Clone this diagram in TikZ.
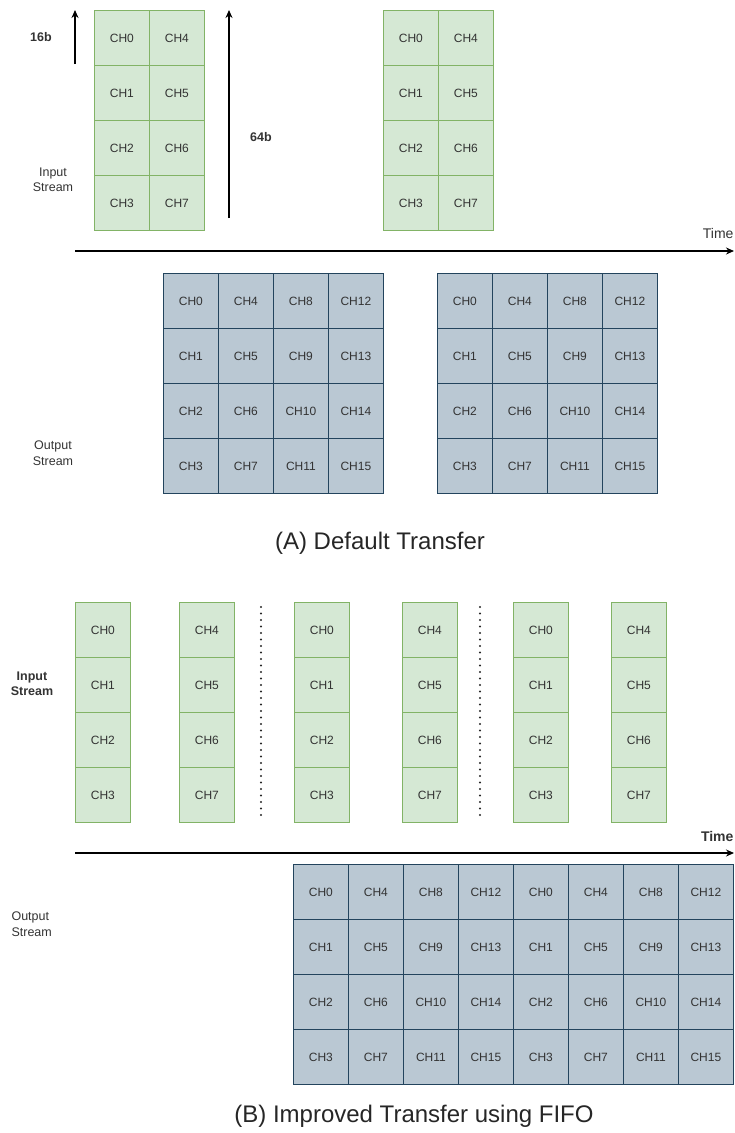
\documentclass[tikz,border=0pt]{standalone}
\usepackage{fontspec}
\setmainfont{Liberation Sans}
\usepackage{tikz}
\usetikzlibrary{arrows.meta}

\definecolor{greenfill}{HTML}{D5E8D4}
\definecolor{greenline}{HTML}{82B366}
\definecolor{bluefill}{HTML}{BAC8D3}
\definecolor{blueline}{HTML}{23445D}
\definecolor{txtgray}{HTML}{333333}

\tikzset{
	incell/.style={draw=greenline, fill=greenfill, line width=0.8pt, minimum width=55pt, minimum height=55pt,
		inner sep=0pt, anchor=north west, text=txtgray, font=\fontsize{12}{14}\selectfont},
	outcell/.style={incell, draw=blueline, fill=bluefill},
	tarrow/.style={line width=1.2pt, -{Stealth[length=8pt,width=7pt]}},
	lbl/.style={align=center, text=txtgray, font=\fontsize{12.5}{15.5}\selectfont},
	boldlbl/.style={lbl, font=\fontsize{12.5}{15.5}\selectfont\bfseries},
	figcap/.style={text=black!85, font=\fontsize{24}{28}\selectfont},
	dots/.style={line width=2.2pt, line cap=round, dash pattern=on 0pt off 6.5pt, black!85},
}

\begin{document}
\begin{tikzpicture}[x=1pt, y=-1pt]
	\useasboundingbox (0,0) rectangle (735,1133);

	% (A) input stream, two words of 64b
	\node[incell] (ia0) at (94,10) {CH0};  \node[incell] (ia4) at (149,10) {CH4};
	\node[incell] (ia1) at (94,65) {CH1};  \node[incell] (ia5) at (149,65) {CH5};
	\node[incell] (ia2) at (94,120) {CH2}; \node[incell] (ia6) at (149,120) {CH6};
	\node[incell] (ia3) at (94,175) {CH3}; \node[incell] (ia7) at (149,175) {CH7};

	\node[incell] (ib0) at (383,10) {CH0};  \node[incell] (ib4) at (438,10) {CH4};
	\node[incell] (ib1) at (383,65) {CH1};  \node[incell] (ib5) at (438,65) {CH5};
	\node[incell] (ib2) at (383,120) {CH2}; \node[incell] (ib6) at (438,120) {CH6};
	\node[incell] (ib3) at (383,175) {CH3}; \node[incell] (ib7) at (438,175) {CH7};

	% word widths
	\coordinate (w16a) at (75,64);  \coordinate (w16b) at (75,10);
	\coordinate (w64a) at (229,218); \coordinate (w64b) at (229,10);
	\draw[tarrow] (w16a) -- (w16b);
	\draw[tarrow] (w64a) -- (w64b);
	\node[boldlbl] (b16) at (41,37) {16b};
	\node[boldlbl] (b64) at (261,137) {64b};
	\node[lbl] (inA) at (53,180) {Input\\Stream};

	% time axis (A)
	\coordinate (tA0) at (75,251); \coordinate (tA1) at (734,251);
	\draw[tarrow] (tA0) -- (tA1);
	\node[lbl, font=\fontsize{14}{16}\selectfont, anchor=east] (timeA) at (737,233) {Time};

	% (A) output stream, 256b blocks
	\node[outcell] (oa0) at (163,273) {CH0}; \node[outcell] (oa4) at (218,273) {CH4};
	\node[outcell] (oa8) at (273,273) {CH8}; \node[outcell] (oa12) at (328,273) {CH12};
	\node[outcell] (oa1) at (163,328) {CH1}; \node[outcell] (oa5) at (218,328) {CH5};
	\node[outcell] (oa9) at (273,328) {CH9}; \node[outcell] (oa13) at (328,328) {CH13};
	\node[outcell] (oa2) at (163,383) {CH2}; \node[outcell] (oa6) at (218,383) {CH6};
	\node[outcell] (oa10) at (273,383) {CH10}; \node[outcell] (oa14) at (328,383) {CH14};
	\node[outcell] (oa3) at (163,438) {CH3}; \node[outcell] (oa7) at (218,438) {CH7};
	\node[outcell] (oa11) at (273,438) {CH11}; \node[outcell] (oa15) at (328,438) {CH15};

	\node[outcell] (ob0) at (437,273) {CH0}; \node[outcell] (ob4) at (492,273) {CH4};
	\node[outcell] (ob8) at (547,273) {CH8}; \node[outcell] (ob12) at (602,273) {CH12};
	\node[outcell] (ob1) at (437,328) {CH1}; \node[outcell] (ob5) at (492,328) {CH5};
	\node[outcell] (ob9) at (547,328) {CH9}; \node[outcell] (ob13) at (602,328) {CH13};
	\node[outcell] (ob2) at (437,383) {CH2}; \node[outcell] (ob6) at (492,383) {CH6};
	\node[outcell] (ob10) at (547,383) {CH10}; \node[outcell] (ob14) at (602,383) {CH14};
	\node[outcell] (ob3) at (437,438) {CH3}; \node[outcell] (ob7) at (492,438) {CH7};
	\node[outcell] (ob11) at (547,438) {CH11}; \node[outcell] (ob15) at (602,438) {CH15};

	\node[lbl] (outA) at (53,453) {Output\\Stream};
	\node[figcap] (capA) at (380,543) {(A) Default Transfer};

	% (B) input stream, one 16b column at a time
	\node[incell] (p0) at (75,602) {CH0};  \node[incell] (q4) at (179,602) {CH4};
	\node[incell] (p1) at (75,657) {CH1};  \node[incell] (q5) at (179,657) {CH5};
	\node[incell] (p2) at (75,712) {CH2};  \node[incell] (q6) at (179,712) {CH6};
	\node[incell] (p3) at (75,767) {CH3};  \node[incell] (q7) at (179,767) {CH7};

	\node[incell] (r0) at (294,602) {CH0}; \node[incell] (s4) at (402,602) {CH4};
	\node[incell] (r1) at (294,657) {CH1}; \node[incell] (s5) at (402,657) {CH5};
	\node[incell] (r2) at (294,712) {CH2}; \node[incell] (s6) at (402,712) {CH6};
	\node[incell] (r3) at (294,767) {CH3}; \node[incell] (s7) at (402,767) {CH7};

	\node[incell] (u0) at (513,602) {CH0}; \node[incell] (v4) at (611,602) {CH4};
	\node[incell] (u1) at (513,657) {CH1}; \node[incell] (v5) at (611,657) {CH5};
	\node[incell] (u2) at (513,712) {CH2}; \node[incell] (v6) at (611,712) {CH6};
	\node[incell] (u3) at (513,767) {CH3}; \node[incell] (v7) at (611,767) {CH7};

	% dotted separators
	\coordinate (d1a) at (261,607); \coordinate (d1b) at (261,821);
	\coordinate (d2a) at (480,607); \coordinate (d2b) at (480,821);
	\draw[dots] (d1a) -- (d1b);
	\draw[dots] (d2a) -- (d2b);

	\node[boldlbl] (inB) at (32,684) {Input\\Stream};

	% time axis (B)
	\coordinate (tB0) at (75,853); \coordinate (tB1) at (734,853);
	\draw[tarrow] (tB0) -- (tB1);
	\node[boldlbl, font=\fontsize{14}{16}\selectfont\bfseries, anchor=east] (timeB) at (737,836) {Time};

	% (B) output stream through the FIFO
	\node[outcell] (f0) at (293,864) {CH0};   \node[outcell] (f4) at (348,864) {CH4};
	\node[outcell] (f8) at (403,864) {CH8};   \node[outcell] (f12) at (458,864) {CH12};
	\node[outcell] (g0) at (513,864) {CH0};   \node[outcell] (g4) at (568,864) {CH4};
	\node[outcell] (g8) at (623,864) {CH8};   \node[outcell] (g12) at (678,864) {CH12};
	\node[outcell] (f1) at (293,919) {CH1};   \node[outcell] (f5) at (348,919) {CH5};
	\node[outcell] (f9) at (403,919) {CH9};   \node[outcell] (f13) at (458,919) {CH13};
	\node[outcell] (g1) at (513,919) {CH1};   \node[outcell] (g5) at (568,919) {CH5};
	\node[outcell] (g9) at (623,919) {CH9};   \node[outcell] (g13) at (678,919) {CH13};
	\node[outcell] (f2) at (293,974) {CH2};   \node[outcell] (f6) at (348,974) {CH6};
	\node[outcell] (f10) at (403,974) {CH10}; \node[outcell] (f14) at (458,974) {CH14};
	\node[outcell] (g2) at (513,974) {CH2};   \node[outcell] (g6) at (568,974) {CH6};
	\node[outcell] (g10) at (623,974) {CH10}; \node[outcell] (g14) at (678,974) {CH14};
	\node[outcell] (f3) at (293,1029) {CH3};  \node[outcell] (f7) at (348,1029) {CH7};
	\node[outcell] (f11) at (403,1029) {CH11}; \node[outcell] (f15) at (458,1029) {CH15};
	\node[outcell] (g3) at (513,1029) {CH3};  \node[outcell] (g7) at (568,1029) {CH7};
	\node[outcell] (g11) at (623,1029) {CH11}; \node[outcell] (g15) at (678,1029) {CH15};

	\node[lbl, align=left, anchor=west] (outB) at (8,924) {Output\\Stream};
	\node[figcap] (capB) at (414,1116) {(B) Improved Transfer using FIFO};
\end{tikzpicture}
\end{document}
